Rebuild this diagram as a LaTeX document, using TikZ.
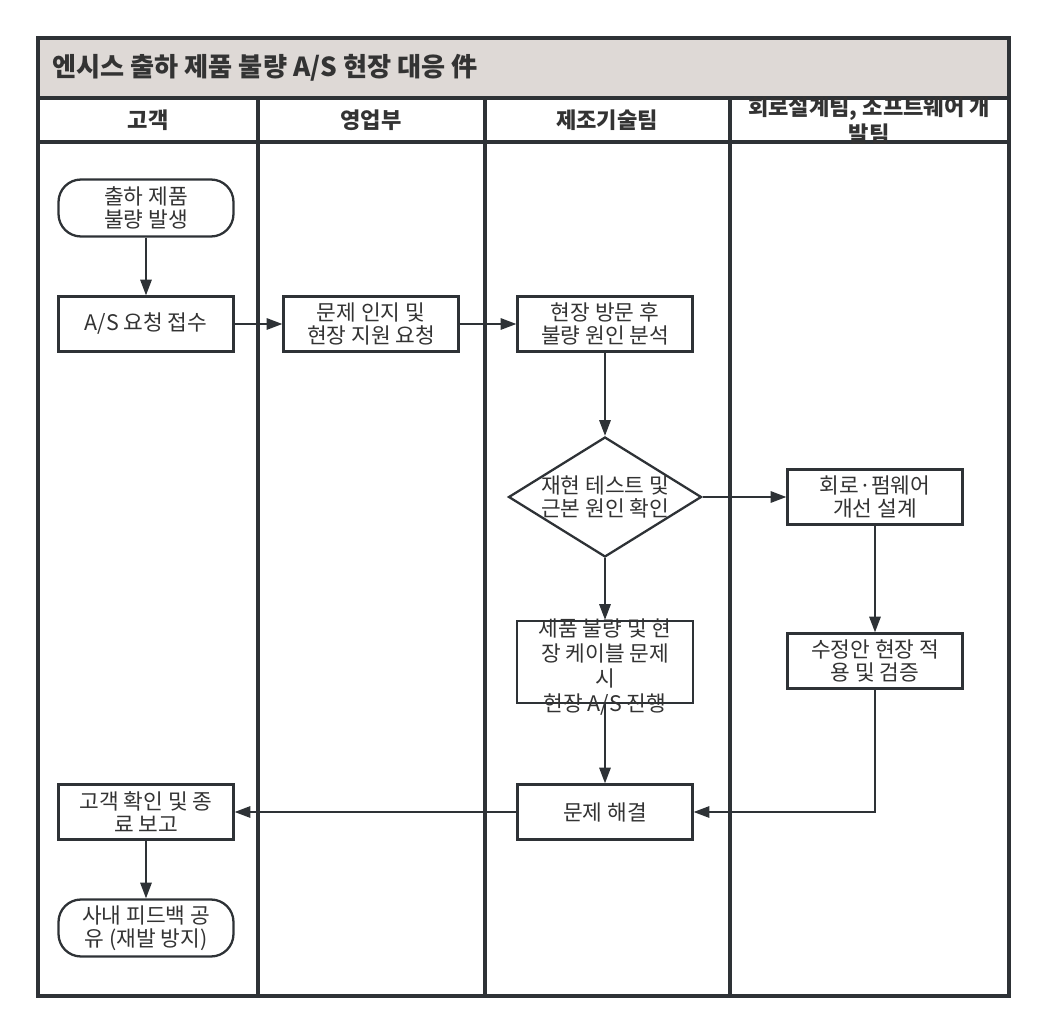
\documentclass[tikz,border=0pt]{standalone}
\usepackage{fontspec}
\setmainfont{Noto Sans CJK KR}
\usetikzlibrary{shapes.geometric,arrows.meta}
\definecolor{linegray}{HTML}{2E3236}
\definecolor{textgray}{HTML}{333333}
\definecolor{titlefill}{HTML}{DED9D6}

\begin{document}
\begin{tikzpicture}[x=0.02cm,y=-0.02cm,
                    box/.style={draw=linegray,line width=1.3pt,fill=white,text=textgray,align=center,inner sep=0pt,minimum width=3.5cm,minimum height=1.1cm,font=\fontsize{12.2}{12.8}\selectfont},
                    terminal/.style={box,rounded corners=0.45cm,minimum height=1.14cm},
                    decision/.style={box,diamond,shape aspect=1.6,minimum width=3.86cm,minimum height=2.4cm,inner sep=-2pt},
                    flow/.style={draw=linegray,line width=1.1pt,-{Triangle[length=9pt,width=6.5pt]}},
                    lane/.style={draw=linegray,line width=2pt},
                    lanehead/.style={text=textgray,align=center,inner sep=0pt,font=\fontsize{12.6}{15.3}\selectfont\bfseries}]
                    \useasboundingbox (0,0) rectangle (1048,1033);
                    \fill[titlefill] (38,38) rectangle (1009,98);
                    \draw[lane] (38,98) -- (1009,98);
                    \draw[lane] (38,142) -- (1009,142);
                    \draw[lane] (258,98) -- (258,996);
                    \draw[lane] (485,98) -- (485,996);
                    \draw[lane] (730,98) -- (730,996);
                    \draw[lane] (38,38) rectangle (1009,996);
                    \node[anchor=west,inner sep=0pt,text=textgray,font=\fontsize{14.9}{16}\selectfont\bfseries] (title) at (52,68) {엔시스 출하 제품 불량 A/S 현장 대응 件};
                    \node[lanehead] (customer) at (148,120) {고객};
                    \node[lanehead] (sales) at (371,120) {영업부};
                    \node[lanehead] (mfg) at (607,120) {제조기술팀};
                    \node[lanehead] (dev) at (869,121) {회로설계팀, 소프트웨어 개\\발팀};
                    \node[terminal] (start) at (146,208) {출하 제품\\불량 발생};
                    \node[box] (req) at (146,324) {A/S 요청 접수};
                    \node[box] (notice) at (371,324) {문제 인지 및\\현장 지원 요청};
                    \node[box] (visit) at (605,324) {현장 방문 후\\불량 원인 분석};
                    \node[decision] (check) at (605,497) {재현 테스트 및\\근본 원인 확인};
                    \node[box] (design) at (875,497) {회로·펌웨어\\개선 설계};
                    \node[box,minimum width=3.52cm,minimum height=1.64cm] (onsite) at (605,662) {\smash{\raisebox{-0.55em}{\fontsize{12.2}{13.6}\selectfont\begin{tabular}{@{}c@{}}제품 불량 및 현\\장 케이블 문제\\시\\현장 A/S 진행\end{tabular}}}};
                    \node[box] (apply) at (875,661) {수정안 현장 적\\용 및 검증};
                    \node[box] (solved) at (605,812) {문제 해결};
                    \node[box] (report) at (146,812) {고객 확인 및 종\\료 보고};
                    \node[terminal] (share) at (146,928) {사내 피드백 공\\유 (재발 방지)};
                    \draw[flow] (start) -- (req);
                    \draw[flow] (req) -- (notice);
                    \draw[flow] (notice) -- (visit);
                    \draw[flow] (visit) -- (check);
                    \draw[flow] (check) -- (design);
                    \draw[flow] (check) -- (onsite);
                    \draw[flow] (onsite) -- (solved);
                    \draw[flow] (design) -- (apply);
                    \draw[flow] (apply.south) |- (solved.east);
                    \draw[flow] (solved) -- (report);
                    \draw[flow] (report) -- (share);
                \end{tikzpicture}
\end{document}
